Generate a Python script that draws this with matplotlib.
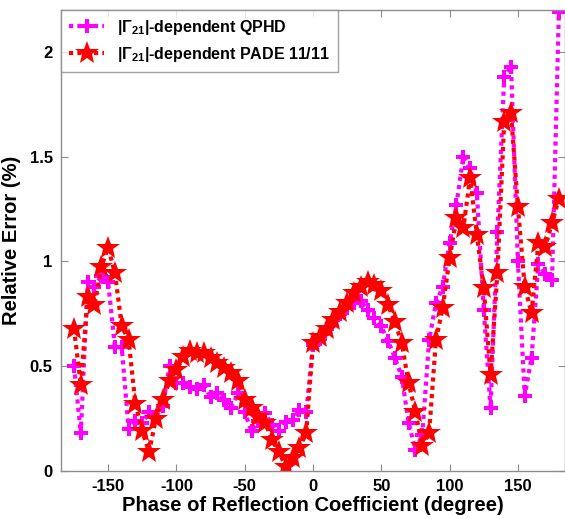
import numpy as np
import matplotlib
matplotlib.use("Agg")
import matplotlib.pyplot as plt
from matplotlib.ticker import FixedLocator, FuncFormatter

plt.rcParams['font.family'] = ['Liberation Sans', 'DejaVu Sans']
plt.rcParams['mathtext.fontset'] = 'custom'
plt.rcParams['mathtext.rm'] = 'Liberation Sans'
plt.rcParams['mathtext.bf'] = 'Liberation Sans:bold'
plt.rcParams['axes.unicode_minus'] = False

# Phase grid (degree)
phase = np.arange(-175, 181, 5)

# |Gamma21|-dependent QPHD relative error (%)
qphd = [0.50, 0.18, 0.90, 0.88, 0.93, 0.90, 0.59, 0.59, 0.20, 0.24,
        0.23, 0.28, 0.26, 0.31, 0.50, 0.42, 0.42, 0.40, 0.39, 0.41,
        0.355, 0.37, 0.34, 0.30, 0.37, 0.28, 0.19, 0.24, 0.275, 0.22,
        0.19, 0.235, 0.243, 0.29, 0.28, 0.60, 0.63, 0.68, 0.72, 0.75,
        0.78, 0.80, 0.81, 0.77, 0.73, 0.69, 0.62, 0.54, 0.45, 0.23,
        0.10, 0.17, 0.625, 0.80, 0.88, 1.09, 1.27, 1.50, 1.445, 1.325,
        0.77, 0.30, 1.14, 1.88, 1.93, 1.00, 0.36, 0.54, 0.99, 0.94,
        0.91, 2.19]

# |Gamma21|-dependent PADE 11/11 relative error (%)
pade = [0.68, 0.41, 0.83, 0.79, 0.975, 1.066, 0.944, 0.69, 0.625, 0.32,
        0.19, 0.09, 0.25, 0.34, 0.43, 0.48, 0.546, 0.573, 0.565, 0.562,
        0.538, 0.514, 0.49, 0.466, 0.43, 0.34, 0.30, 0.26, 0.23, 0.148,
        0.092, 0.02, 0.06, 0.11, 0.18, 0.61, 0.64, 0.68, 0.72, 0.76,
        0.80, 0.85, 0.88, 0.90, 0.89, 0.86, 0.79, 0.71, 0.61, 0.42,
        0.28, 0.12, 0.18, 0.625, 0.78, 1.015, 1.206, 1.158, 1.397, 1.127,
        0.872, 0.458, 0.944, 1.667, 1.707, 1.262, 0.88, 0.753, 1.087, 1.071,
        1.182, 1.30]

xticks = [-150, -100, -50, 0, 50, 100, 150]
yticks = [0, 0.5, 1, 1.5, 2]

fig = plt.figure(figsize=(5.65, 5.19), dpi=100)
ax = fig.add_axes([61 / 565, 48 / 519, 504 / 565, 461 / 519])

ax.plot(phase, qphd, color='#FF00FF', linestyle=(0, (1, 1)), linewidth=3,
        marker='P', markersize=10, markeredgewidth=0,
        label=r'$\mathbf{|\Gamma_{21}|}$-dependent QPHD')
ax.plot(phase, pade, color='#FF0000', linestyle=(0, (1, 1)), linewidth=3,
        marker='*', markersize=18, markeredgewidth=0,
        label=r'$\mathbf{|\Gamma_{21}|}$-dependent PADE 11/11')

ax.set_xlim(-184.5, 184.5)
ax.set_ylim(0, 2.2)
ax.xaxis.set_major_locator(FixedLocator(xticks))
ax.yaxis.set_major_locator(FixedLocator(yticks))
ax.yaxis.set_major_formatter(FuncFormatter(lambda v, p: f'{v:g}'))

for s in ax.spines.values():
    s.set_color('#8c8c8c')
    s.set_linewidth(1)
ax.tick_params(direction='in', top=True, right=True, length=5,
               color='#8c8c8c', labelsize=12, pad=6)
for lab in ax.get_xticklabels() + ax.get_yticklabels():
    lab.set_fontweight('bold')

ax.set_xlabel('Phase of Reflection Coefficient (degree)', fontsize=14.5,
              fontweight='bold', labelpad=1)
ax.set_ylabel('Relative Error (%)', fontsize=14.5, fontweight='bold', labelpad=6)

leg = ax.legend(loc='upper left', borderaxespad=0, fancybox=False,
                edgecolor='#8c8c8c', prop={'weight': 'bold', 'size': 11.5},
                handlelength=2.2, borderpad=0.5, labelspacing=0.5)
leg.get_frame().set_linewidth(1)

fig.savefig('out.png', dpi=100)
